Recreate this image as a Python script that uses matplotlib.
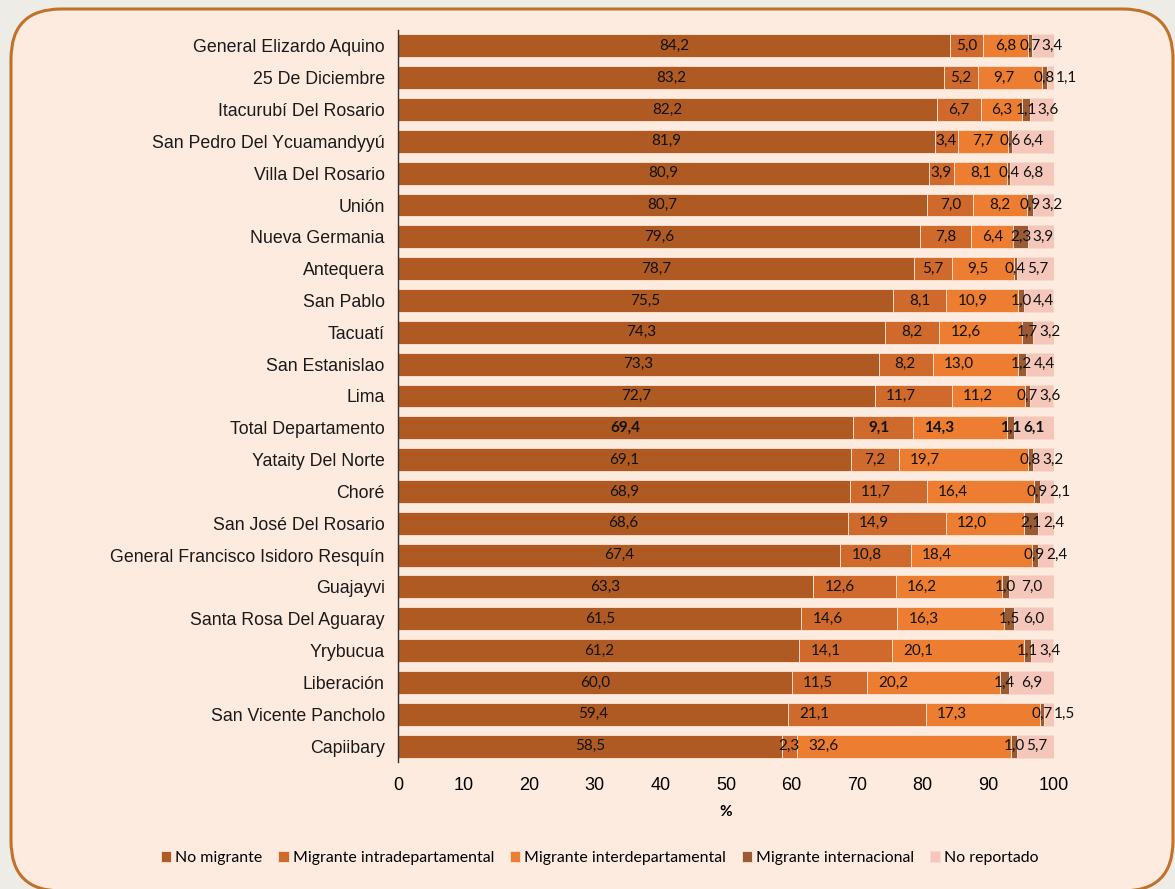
import numpy as np
import matplotlib.pyplot as plt
from matplotlib.patches import FancyBboxPatch
from matplotlib.transforms import IdentityTransform

municipios = [
    "General Elizardo Aquino", "25 De Diciembre", "Itacurubí Del Rosario",
    "San Pedro Del Ycuamandyyú", "Villa Del Rosario", "Unión", "Nueva Germania",
    "Antequera", "San Pablo", "Tacuatí", "San Estanislao", "Lima",
    "Total Departamento", "Yataity Del Norte", "Choré", "San José Del Rosario",
    "General Francisco Isidoro Resquín", "Guajayvi", "Santa Rosa Del Aguaray",
    "Yrybucua", "Liberación", "San Vicente Pancholo", "Capiibary",
]
no_migrante = [84.2, 83.2, 82.2, 81.9, 80.9, 80.7, 79.6, 78.7, 75.5, 74.3, 73.3, 72.7,
               69.4, 69.1, 68.9, 68.6, 67.4, 63.3, 61.5, 61.2, 60.0, 59.4, 58.5]
intradep = [5.0, 5.2, 6.7, 3.4, 3.9, 7.0, 7.8, 5.7, 8.1, 8.2, 8.2, 11.7,
            9.1, 7.2, 11.7, 14.9, 10.8, 12.6, 14.6, 14.1, 11.5, 21.1, 2.3]
interdep = [6.8, 9.7, 6.3, 7.7, 8.1, 8.2, 6.4, 9.5, 10.9, 12.6, 13.0, 11.2,
            14.3, 19.7, 16.4, 12.0, 18.4, 16.2, 16.3, 20.1, 20.2, 17.3, 32.6]
internacional = [0.7, 0.8, 1.1, 0.6, 0.4, 0.9, 2.3, 0.4, 1.0, 1.7, 1.2, 0.7,
                 1.1, 0.8, 0.9, 2.1, 0.9, 1.0, 1.5, 1.1, 1.4, 0.7, 1.0]
no_reportado = [3.4, 1.1, 3.6, 6.4, 6.8, 3.2, 3.9, 5.7, 4.4, 3.2, 4.4, 3.6,
                6.1, 3.2, 2.1, 2.4, 2.4, 7.0, 6.0, 3.4, 6.9, 1.5, 5.7]

series = [
    ("No migrante", no_migrante, "#B05A23"),
    ("Migrante intradepartamental", intradep, "#D06A2C"),
    ("Migrante interdepartamental", interdep, "#ED7D31"),
    ("Migrante internacional", internacional, "#9A5A33"),
    ("No reportado", no_reportado, "#F5C7BA"),
]

bg = "#FDEBDF"
fig = plt.figure(figsize=(11.75, 8.89), dpi=100, facecolor="#EEECE7")
panel = FancyBboxPatch((11, -2), 1162, 882, boxstyle="round,pad=0,rounding_size=50",
                       transform=IdentityTransform(), facecolor=bg,
                       edgecolor="#C0722A", linewidth=2.2, zorder=-10)
fig.patches.append(panel)

ax = fig.add_axes([0.3387, 0.1429, 0.5583, 0.8234])
ax.set_facecolor("none")

y = np.arange(len(municipios))
left = np.zeros(len(municipios))
lefts, centers = [], []
for name, vals, col in series:
    vals = np.array(vals)
    ax.barh(y, vals, left=left, height=0.72, color=col, edgecolor="#F6DCCB",
            linewidth=0.7, label=name)
    lefts.append(left.copy())
    centers.append(left + vals / 2)
    left = left + vals

total_idx = municipios.index("Total Departamento")
for i in range(len(municipios)):
    xs = [c[i] for c in centers]
    # migrant labels sit near the start of wide segments, as in the original
    for k in (1, 2):
        xs[k] = min(xs[k], lefts[k][i] + 4.0)
    # push the last label right when it crowds the international one
    if xs[4] - xs[3] < 3.4:
        xs[4] = xs[3] + 3.4
    for k, (name, vals, col) in enumerate(series):
        txt = f"{vals[i]:.1f}".replace(".", ",")
        ax.text(xs[k], y[i], txt, ha="center", va="center", fontsize=11,
                family="Lato", color="#111111",
                fontweight="bold" if i == total_idx else "normal")

ax.set_ylim(len(municipios) - 0.5, -0.5)
ax.set_xlim(0, 100)
ax.set_xticks(range(0, 101, 10))
ax.set_yticks(y)
ax.set_yticklabels(municipios, fontsize=12.8, family="Liberation Sans", color="#1A1A1A")
for lab in ax.get_xticklabels():
    lab.set_fontsize(13)
    lab.set_family("Liberation Sans")
ax.tick_params(length=0)
ax.tick_params(axis="x", pad=11)
ax.tick_params(axis="y", pad=9.5)
for s in ["top", "right", "bottom"]:
    ax.spines[s].set_visible(False)
ax.spines["left"].set_color("#333333")
ax.spines["left"].set_linewidth(1.0)
ax.set_xlabel("%", fontsize=11, fontweight="bold", family="Lato", labelpad=8)

fig.legend(loc="center", bbox_to_anchor=(600 / 1175, 1 - 858 / 889), ncol=5,
           frameon=False, prop={"family": "Lato", "size": 11.4},
           handlelength=0.65, handleheight=0.65, handletextpad=0.25, columnspacing=1.0)

fig.savefig("out.png", dpi=100, facecolor=fig.get_facecolor())
